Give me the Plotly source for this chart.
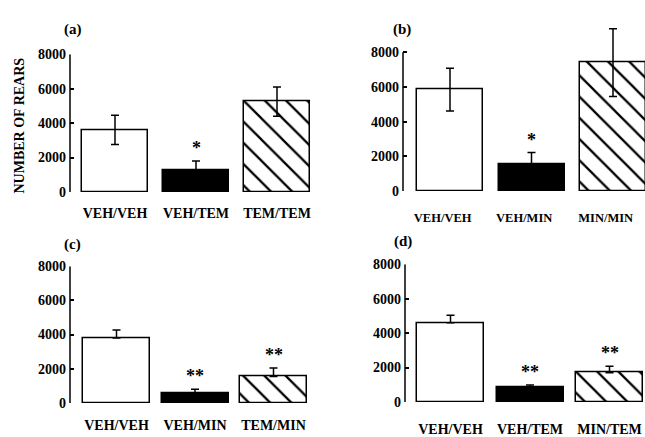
import plotly.graph_objects as go

W, H = 645, 437

# Mean number of rears per group and SEM, one set per panel
groups_a = ["VEH/VEH", "VEH/TEM", "TEM/TEM"]
rears_a = [3600, 1250, 5250]
sem_a = [850, 550, 850]

groups_b = ["VEH/VEH", "VEH/MIN", "MIN/MIN"]
rears_b = [5850, 1550, 7400]
sem_b = [1230, 670, 1950]

groups_c = ["VEH/VEH", "VEH/MIN", "TEM/MIN"]
rears_c = [3800, 600, 1550]
sem_c = [470, 200, 500]

groups_d = ["VEH/VEH", "VEH/TEM", "MIN/TEM"]
rears_d = [4600, 850, 1700]
sem_d = [430, 140, 370]

stars_a = ["", "*", ""]
stars_b = ["", "*", ""]
stars_c = ["", "**", "**"]
stars_d = ["", "**", "**"]

y_ticks = [0, 2000, 4000, 6000, 8000]
panel_letters = ["(a)", "(b)", "(c)", "(d)"]

SERIF = "Liberation Serif"
Y_MAX = 8000

# panel geometry in pixels: x-axis pixel span, first bar centre, pixels per category,
# y pixel of 8000 and of 0, bar width, whether the lower whisker is shown
panels = [
    dict(groups=groups_a, vals=rears_a, sem=sem_a, stars=stars_a, both=True, ymax=8000,
         px=(70, 320), c0=115, step=81, ytop=49, ybot=192, bw=66, tfs=14, stand=11, tshift=0.0),
    dict(groups=groups_b, vals=rears_b, sem=sem_b, stars=stars_b, both=True, ymax=9500,
         px=(403, 645), c0=450, step=81.5, ytop=47, ybot=191, bw=66, tfs=12.5, stand=17, tshift=-0.09),
    dict(groups=groups_c, vals=rears_c, sem=sem_c, stars=stars_c, both=False, ymax=8000,
         px=(70, 320), c0=116.5, step=78.5, ytop=269, ybot=411, bw=67, tfs=14, stand=12, tshift=0.0),
    dict(groups=groups_d, vals=rears_d, sem=sem_d, stars=stars_d, both=False, ymax=8000,
         px=(405, 645), c0=450.5, step=79.5, ytop=267, ybot=410, bw=67, tfs=14, stand=17, tshift=0.0),
]

fills = ["white", "black", "white"]
hatches = ["", "", "\\"]

fig = go.Figure()
annotations = []
shapes = []
layout = {}

for i, p in enumerate(panels):
    k = "" if i == 0 else str(i + 1)
    xa, ya = "x" + k, "y" + k
    x0 = -(p["c0"] - p["px"][0]) / p["step"]
    x1 = (p["px"][1] - p["c0"]) / p["step"]
    xs = list(range(len(p["groups"])))

    # one trace per bar so each can carry its own fill / hatch
    for j in xs:
        marker = dict(color=fills[j], line=dict(color="black", width=1.5))
        if hatches[j]:
            marker["pattern"] = dict(shape=hatches[j], fgcolor="#000000", bgcolor="#ffffff",
                                     fgopacity=1, fillmode="replace",
                                     size=15, solidity=0.15)
        fig.add_trace(go.Bar(
            x=[j], y=[p["vals"][j]], xaxis=xa, yaxis=ya,
            width=p["bw"] / p["step"],
            marker=marker,
            error_y=dict(type="data", array=[p["sem"][j]],
                         arrayminus=[p["sem"][j] if p["both"] else 0],
                         symmetric=False, color="black", thickness=1.5, width=4),
            showlegend=False,
        ))

    # y extent in pixels scaled so that 8000 sits at ytop
    span = p["ybot"] - p["ytop"]
    top_px = p["ybot"] - span * p["ymax"] / Y_MAX

    layout["xaxis" + k] = dict(
        domain=[p["px"][0] / W, p["px"][1] / W],
        range=[x0, x1], anchor=ya,
        tickvals=[x + p["tshift"] for x in xs], ticktext=p["groups"],
        showline=False, showgrid=False, zeroline=False, ticks="",
        ticklabelstandoff=p["stand"],
        tickfont=dict(family=SERIF, size=p["tfs"], color="black", weight="bold"),
        fixedrange=True,
    )
    layout["yaxis" + k] = dict(
        domain=[1 - p["ybot"] / H, 1 - top_px / H],
        range=[0, p["ymax"]], anchor=xa,
        tickvals=y_ticks, ticktext=[str(v) for v in y_ticks],
        showline=False,
        ticks="inside", ticklen=4, tickwidth=1.5, tickcolor="black",
        showgrid=False, zeroline=False,
        ticklabelstandoff=3,
        tickfont=dict(family=SERIF, size=14, color="black", weight="bold"),
        fixedrange=True,
    )
    # vertical axis line from 0 to 8000
    shapes.append(dict(type="line", xref=xa + " domain", yref=ya,
                       x0=0, x1=0, y0=0, y1=Y_MAX,
                       line=dict(color="black", width=1.5)))

    # significance stars above the error bars
    for x, v, s, st in zip(xs, p["vals"], p["sem"], p["stars"]):
        if st:
            annotations.append(dict(
                x=x, y=v + s, xref=xa, yref=ya, text=st, showarrow=False,
                yanchor="bottom", yshift=1,
                font=dict(family=SERIF, size=18, color="black", weight="bold"),
            ))

letter_pos = [(73, 23), (402, 23), (72, 247), (403, 243)]
for (lx, ly), t in zip(letter_pos, panel_letters):
    annotations.append(dict(
        x=lx / W, y=1 - ly / H, xref="paper", yref="paper", text=t,
        showarrow=False, xanchor="center", yanchor="middle",
        font=dict(family=SERIF, size=15, color="black", weight="bold"),
    ))

annotations.append(dict(
    x=19 / W, y=1 - 123 / H, xref="paper", yref="paper", text="NUMBER OF REARS",
    showarrow=False, textangle=-90, xanchor="center", yanchor="middle",
    font=dict(family=SERIF, size=14, color="black", weight="bold"),
))

fig.update_layout(
    width=W, height=H,
    margin=dict(l=0, r=0, t=0, b=0),
    paper_bgcolor="white", plot_bgcolor="white",
    annotations=annotations,
    shapes=shapes,
    bargap=0,
    **layout,
)

fig.write_html("out.html", config={"displayModeBar": False})
